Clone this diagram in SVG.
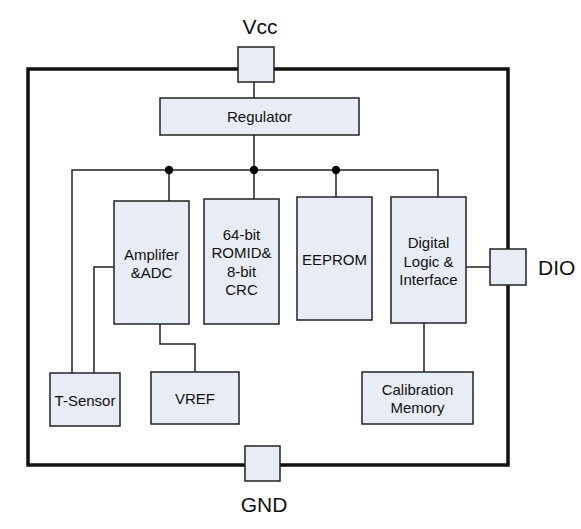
<svg xmlns="http://www.w3.org/2000/svg" width="581" height="529" viewBox="0 0 581 529">
<style>
.box{fill:#E8ECF5;stroke:#222;stroke-width:1.5}
.t{font-family:"Liberation Sans",Arial,sans-serif;font-size:15px;fill:#111;text-anchor:middle}
.pin{font-family:"Liberation Sans",Arial,sans-serif;font-size:21px;fill:#111}
.w{fill:none;stroke:#222;stroke-width:1.5}
</style>
<rect width="581" height="529" fill="#fff"/>
<g id="chip"><rect x="28" y="69" width="480" height="396" fill="none" stroke="#111" stroke-width="3.5"/></g>
<g id="connectors">
<path class="w" d="M254 82V98M254 135V199M72 373V170H438V197M169 170V201M336 170V197"/>
<path class="w" d="M114 267H94V373M160 324V344H195V372M466 267H490M424 323V372"/>
<circle cx="169" cy="170" r="4.2" fill="#000"/>
<circle cx="254" cy="170" r="4.2" fill="#000"/>
<circle cx="336" cy="170" r="4.2" fill="#000"/>
</g>
<g id="vcc"><rect class="box" x="238" y="47" width="36" height="35"/><text class="pin" x="260" y="34" text-anchor="middle">Vcc</text></g>
<g id="dio"><rect class="box" x="490" y="249" width="36" height="36"/><text class="pin" x="538" y="275">DIO</text></g>
<g id="gnd"><rect class="box" x="245" y="446" width="35" height="35"/><text class="pin" x="264" y="512" text-anchor="middle">GND</text></g>
<g id="regulator"><rect class="box" x="160" y="98" width="199" height="37"/><text class="t" x="259.500" y="122">Regulator</text></g>
<g id="amplifier"><rect class="box" x="114" y="201" width="75" height="123"/><text class="t" x="151.500" y="260">Amplifer</text><text class="t" x="151.500" y="278">&amp;ADC</text></g>
<g id="romid"><rect class="box" x="204" y="199" width="75" height="125"/><text class="t" x="241.500" y="240">64-bit</text><text class="t" x="241.500" y="258">ROMID&amp;</text><text class="t" x="241.500" y="277">8-bit</text><text class="t" x="241.500" y="295">CRC</text></g>
<g id="eeprom"><rect class="box" x="297" y="197" width="75" height="123"/><text class="t" x="334.500" y="265">EEPROM</text></g>
<g id="digital"><rect class="box" x="391" y="197" width="75" height="126"/><text class="t" x="428.500" y="248">Digital</text><text class="t" x="428.500" y="266.500">Logic &amp;</text><text class="t" x="428.500" y="285">Interface</text></g>
<g id="tsensor"><rect class="box" x="50" y="373" width="70" height="53"/><text class="t" x="85" y="406">T-Sensor</text></g>
<g id="vref"><rect class="box" x="151" y="372" width="88" height="52"/><text class="t" x="195" y="404">VREF</text></g>
<g id="calibration"><rect class="box" x="362" y="372" width="111" height="52"/><text class="t" x="417.500" y="395">Calibration</text><text class="t" x="417.500" y="413">Memory</text></g>
</svg>
